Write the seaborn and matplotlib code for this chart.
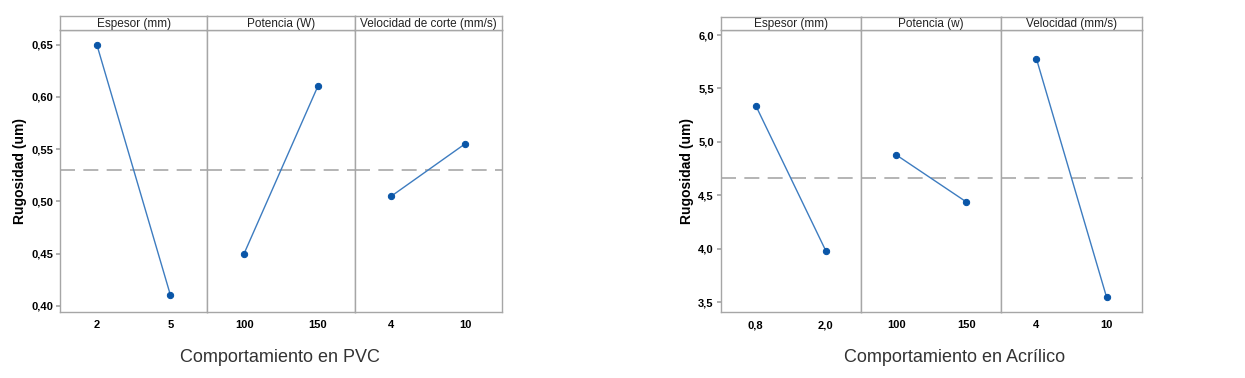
import pandas as pd
import matplotlib.pyplot as plt
import seaborn as sns

# Data
factors_pvc = ["Espesor (mm)", "Potencia (W)", "Velocidad de corte (mm/s)"]
levels_pvc = [["2", "5"], ["100", "150"], ["4", "10"]]
means_pvc = [[0.650, 0.410], [0.450, 0.610], [0.505, 0.555]]
grand_pvc = 0.530
yticks_pvc = [0.40, 0.45, 0.50, 0.55, 0.60, 0.65]

factors_acr = ["Espesor (mm)", "Potencia (w)", "Velocidad (mm/s)"]
levels_acr = [["0,8", "2,0"], ["100", "150"], ["4", "10"]]
means_acr = [[5.34, 3.98], [4.88, 4.44], [5.78, 3.55]]
grand_acr = 4.665
yticks_acr = [3.5, 4.0, 4.5, 5.0, 5.5, 6.0]

sns.set_theme(style="white")
plt.rcParams['font.family'] = ['Liberation Sans', 'DejaVu Sans']

frame = "#a6a6a6"
line_col = "#3d7cc0"
dot_col = "#0a56a8"


def main_effects(fig, x0, pw, bottom, height, strip_h, factors, levels, means,
                 grand, yticks, ylim, fmt, caption, cap_x, ylab_pad):
    for i in range(3):
        ax = fig.add_axes([x0 + i * pw, bottom, pw, height])
        df = pd.DataFrame({"nivel": levels[i], "media": means[i]})
        sns.pointplot(data=df, x="nivel", y="media", ax=ax, color=line_col,
                      markers="o", linewidth=1, markersize=4.5, errorbar=None)
        for ln in ax.lines:
            ln.set_markerfacecolor(dot_col)
            ln.set_markeredgecolor(dot_col)
        ax.axhline(grand, color="#a8a8a8", lw=1.2, dashes=(9, 5), zorder=0)
        ax.set_xlim(-0.5, 1.5)
        ax.set_ylim(*ylim)
        ax.set_xlabel("")
        ax.set_ylabel("")
        for s in ax.spines.values():
            s.set_color(frame)
            s.set_linewidth(1)
        ax.tick_params(axis="x", length=0, pad=6, labelsize=8, labelcolor="black")
        for t in ax.get_xticklabels():
            t.set_fontweight("bold")
        if i == 0:
            ax.set_yticks(yticks)
            ax.set_yticklabels([fmt(v) for v in yticks], fontsize=8,
                               fontweight="bold", color="black")
            ax.tick_params(axis="y", length=3, color=frame, left=True, pad=2)
            ax.set_ylabel("Rugosidad (um)", fontsize=10, fontweight="bold",
                          color="black", labelpad=ylab_pad)
        else:
            ax.set_yticks([])
        # strip header
        sax = fig.add_axes([x0 + i * pw, bottom + height, pw, strip_h])
        sax.set_xticks([])
        sax.set_yticks([])
        for s in sax.spines.values():
            s.set_color(frame)
            s.set_linewidth(1)
        sax.text(0.5, 0.45, factors[i], ha="center", va="center",
                 fontsize=8.5, color="#222222", transform=sax.transAxes)
    fig.text(cap_x, 0.055, caption, ha="center", va="center", fontsize=13,
             color="#333333")


fig = plt.figure(figsize=(12.45, 3.78), dpi=100)

main_effects(fig, 60 / 1245, 147.3 / 1245, 1 - 312 / 378, 282 / 378, 14 / 378,
             factors_pvc, levels_pvc, means_pvc, grand_pvc, yticks_pvc,
             (0.394, 0.664), lambda v: f"{v:.2f}".replace(".", ","),
             "Comportamiento en PVC", 280 / 1245, 3)

main_effects(fig, 720.7 / 1245, 140.3 / 1245, 1 - 312 / 378, 282 / 378, 13 / 378,
             factors_acr, levels_acr, means_acr, grand_acr, yticks_acr,
             (3.41, 6.047), lambda v: f"{v:.1f}".replace(".", ","),
             "Comportamiento en Acrílico", 955 / 1245, 3)

fig.savefig("out.png", dpi=100)
